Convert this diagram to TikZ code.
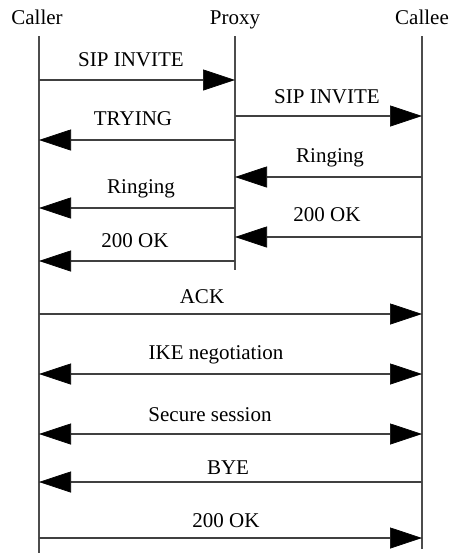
\documentclass[tikz,border=0pt]{standalone}
\usepackage{fontspec}
\setmainfont{Liberation Serif}
\usetikzlibrary{arrows.meta}
\begin{document}
\begin{tikzpicture}[x=1pt,y=-1pt,
  party/.style={font=\fontsize{21}{24}\selectfont, inner sep=0pt, anchor=center},
  lbl/.style={font=\fontsize{21}{24}\selectfont, inner sep=0pt, anchor=center},
  life/.style={line width=1.1pt, draw=black!70},
  head/.tip={Triangle[length=32pt,width=21pt,color=black,line width=0.6pt]},
  msg/.style={line width=1.1pt, draw=black!75, -head},
  msg2/.style={line width=1.1pt, draw=black!75, head-head}]
\useasboundingbox (0,0) rectangle (449,554);

% participants
\node[party] (caller) at (37,17) {Caller};
\node[party] (proxy)  at (235,20) {Proxy};
\node[party] (callee) at (422,17) {Callee};

% lifelines
\coordinate (cT) at (39,36);   \coordinate (cB) at (39,553);
\coordinate (pT) at (235,36);  \coordinate (pB) at (235,270);
\coordinate (eT) at (422,36);  \coordinate (eB) at (422,549);
\draw[life] (cT) -- (cB);
\draw[life] (pT) -- (pB);
\draw[life] (eT) -- (eB);

% call set-up through the proxy
\draw[msg] (cT |- 0,80)  -- (pT |- 0,80);
\node[lbl] (l1) at (131,60) {SIP INVITE};
\draw[msg] (pT |- 0,116) -- (eT |- 0,116);
\node[lbl] (l2) at (327,97) {SIP INVITE};
\draw[msg] (pT |- 0,140) -- (cT |- 0,140);
\node[lbl] (l3) at (133,119) {TRYING};
\draw[msg] (eT |- 0,177) -- (pT |- 0,177);
\node[lbl] (l4) at (330,158) {Ringing};
\draw[msg] (pT |- 0,208) -- (cT |- 0,208);
\node[lbl] (l5) at (141,189) {Ringing};
\draw[msg] (eT |- 0,237) -- (pT |- 0,237);
\node[lbl] (l6) at (327,215) {200 OK};
\draw[msg] (pT |- 0,261) -- (cT |- 0,261);
\node[lbl] (l7) at (135,241) {200 OK};

% end-to-end exchange
\draw[msg]  (cT |- 0,314) -- (eT |- 0,314);
\node[lbl] (l8) at (202,297) {ACK};
\draw[msg2] (cT |- 0,374) -- (eT |- 0,374);
\node[lbl] (l9) at (216,355) {IKE negotiation};
\draw[msg2] (cT |- 0,434) -- (eT |- 0,434);
\node[lbl] (l10) at (210,415) {Secure session};
\draw[msg]  (eT |- 0,482) -- (cT |- 0,482);
\node[lbl] (l11) at (228,468) {BYE};
\draw[msg]  (cT |- 0,538) -- (eT |- 0,538);
\node[lbl] (l12) at (226,521) {200 OK};
\end{tikzpicture}
\end{document}
